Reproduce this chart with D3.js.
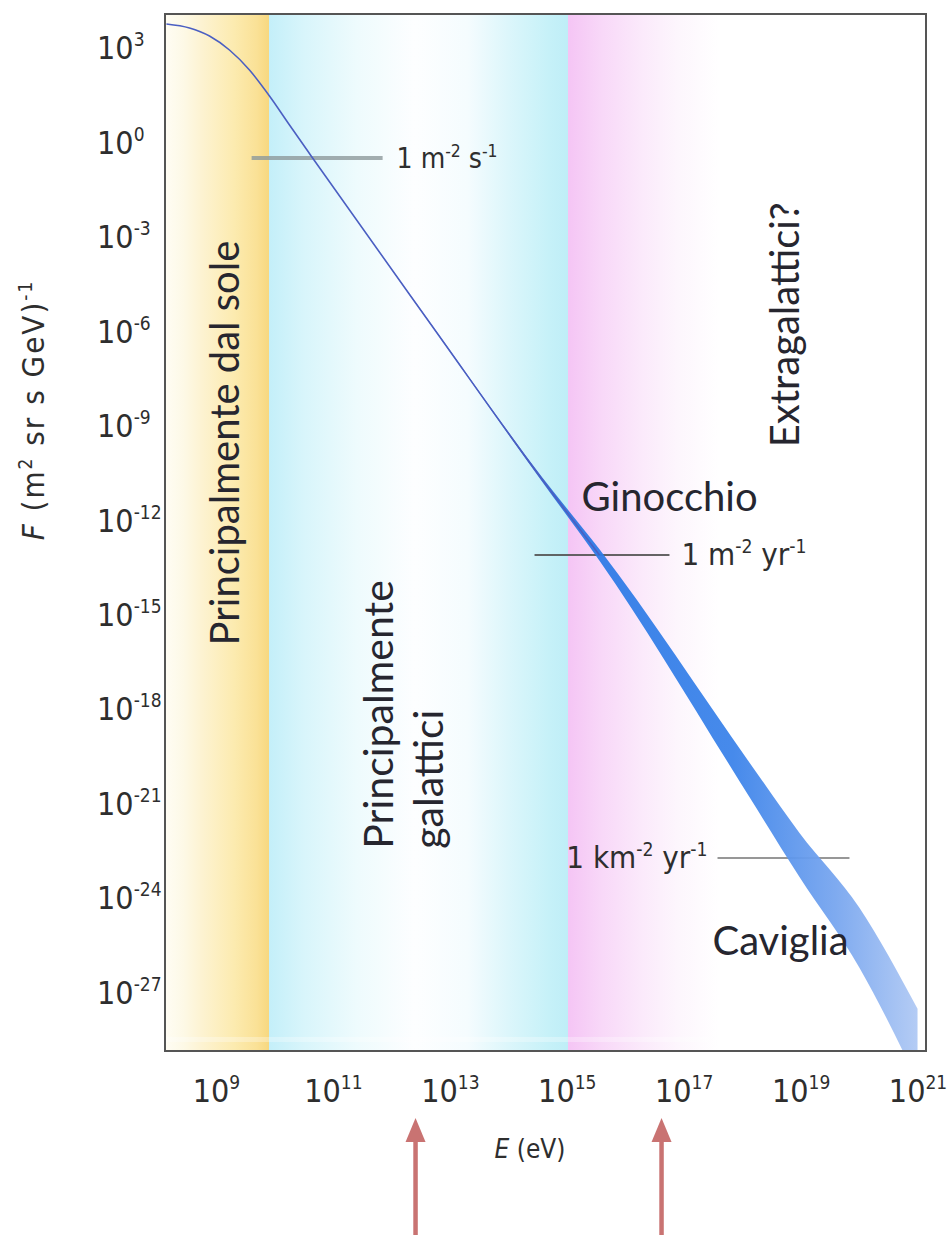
<!DOCTYPE html>
<html>
<head>
<meta charset="utf-8">
<script src="https://cdn.jsdelivr.net/npm/d3@7/dist/d3.min.js"></script>
<style>
  html, body { margin: 0; padding: 0; background: #fff; }
  svg { display: block; }
  .num { font-family: "Liberation Sans Narrow", "DejaVu Sans Condensed", "Arial Narrow", sans-serif; fill: #2e2e2e; }
  .region { font-family: Lato, "Open Sans", sans-serif; fill: #26262f; }
</style>
</head>
<body>
<div id="chart"></div>
<script>
// cosmic ray spectrum (E in eV, F in (m^2 sr s GeV)^-1)
const energies = [1.42e8, 3.52e8, 7.74e8, 1.70e9, 3.74e9, 8.22e9, 1.81e10, 4.13e10,
                  5.25e12, 3.85e14, 3.63e15, 1.34e18, 9.57e18, 1.02e20, 1.0e21];
const fluxes = [5.79e3, 4.33e3, 2.40e3, 863, 200, 29.9, 3.57, 0.398,
                1.27e-6, 1.87e-11, 7.76e-14, 5.5e-21, 2.27e-23, 5.24e-26, 2.08e-29];
// half width of the measured band, in decades of F
const spread = [0, 0, 0, 0, 0, 0, 0, 0, 0.02, 0.07, 0.18, 0.55, 0.7, 0.95, 1.15];

const xTicks = [1e9, 1e11, 1e13, 1e15, 1e17, 1e19, 1e21];
const yTicks = [1e3, 1e0, 1e-3, 1e-6, 1e-9, 1e-12, 1e-15, 1e-18, 1e-21, 1e-24, 1e-27];

// integral flux reference levels
const refLabels = [
    [["1 m", 0], ["-2", 1], [" s", 0], ["-1", 1]],
    [["1 m", 0], ["-2", 1], [" yr", 0], ["-1", 1]],
    [["1 km", 0], ["-2", 1], [" yr", 0], ["-1", 1]],
];
const refFlux = [0.32, 7.76e-14, 1.82e-23];
const refFrom = [4.07e9, 2.81e14, 3.79e17];
const refTo = [7.08e11, 5.71e16, 6.85e19];

// origin regions: background band edges
const sunBand = [1.34e8, 8.2e9];
const galacticBand = [8.2e9, 1.07e15];
const extraBand = [1.07e15, 4.1e17];

const regionNames = [["Principalmente dal sole"], ["Principalmente", "galattici"], ["Extragalattici?"]];
const regionAt = [[2.5e9, 2.8e-10], [1.05e12, 3.6e-23], [9.5e18, 1.6e-6]];
const featureNames = ["Ginocchio", "Caviglia"];
const featureAt = [[1.79e15, 1.95e-12], [3.1e17, 1.5e-26]];

const arrowEnergies = [2.59e12, 4.18e16];

const width = 949, height = 1235;
const plot = { left: 165, top: 14, width: 761, height: 1037 };

const svg = d3.select('#chart').append('svg')
    .attr('width', width)
    .attr('height', height);

const x = d3.scaleLog()
    .domain([1.342e8, 1.396e21])
    .range([plot.left, plot.left + plot.width]);

const y = d3.scaleLog()
    .domain([1.202e4, 1.343e-29])
    .range([plot.top, plot.top + plot.height]);

const defs = svg.append('defs');

defs.append('clipPath').attr('id', 'clip')
    .append('rect')
    .attr('x', plot.left).attr('y', plot.top)
    .attr('width', plot.width).attr('height', plot.height);

// background colour wash
const off = e => (x(e) - plot.left) / plot.width;
const bgStops = [
    [sunBand[0], '#fffdf4'],
    [Math.pow(10, 8.45), '#fdf9e6'],
    [Math.pow(10, 8.75), '#fdf3d2'],
    [Math.pow(10, 9.3), '#fcebb0'],
    [Math.pow(10, 9.7), '#fae196'],
    [sunBand[1] * 0.97, '#f7d880'],
    [galacticBand[0], '#c4eff9'],
    [Math.pow(10, 10.5), '#d8f5fb'],
    [Math.pow(10, 11.4), '#eefbfd'],
    [Math.pow(10, 12.4), '#fdfeff'],
    [Math.pow(10, 13.3), '#f5fcfe'],
    [Math.pow(10, 14.0), '#dcf6fb'],
    [Math.pow(10, 14.7), '#c6f1f8'],
    [galacticBand[1] * 0.97, '#bfeef7'],
    [extraBand[0], '#f5c5f5'],
    [Math.pow(10, 15.6), '#f8d8f8'],
    [Math.pow(10, 16.3), '#fbeafb'],
    [Math.pow(10, 16.9), '#fdf6fd'],
    [extraBand[1], '#ffffff'],
];
const bg = defs.append('linearGradient')
    .attr('id', 'bg')
    .attr('x1', 0).attr('x2', 1).attr('y1', 0).attr('y2', 0);
bg.selectAll('stop')
    .data(bgStops)
    .enter()
    .append('stop')
    .attr('offset', d => off(d[0]))
    .attr('stop-color', d => d[1]);

const bandFill = defs.append('linearGradient')
    .attr('id', 'bandfill')
    .attr('gradientUnits', 'userSpaceOnUse')
    .attr('x1', x(1e14)).attr('x2', x(1e21))
    .attr('y1', 0).attr('y2', 0);
[[0, '#3a62c8'], [0.2, '#2e7be6'], [0.55, '#3d84ea'], [0.8, '#78a6ef'], [1, '#b0c9f4']]
    .forEach(([o, c]) => bandFill.append('stop').attr('offset', o).attr('stop-color', c));

svg.append('rect')
    .attr('x', plot.left).attr('y', plot.top)
    .attr('width', plot.width).attr('height', plot.height)
    .attr('fill', 'url(#bg)');

const layer = svg.append('g').attr('clip-path', 'url(#clip)');

// faint light stripe near the bottom
layer.append('rect')
    .attr('x', plot.left).attr('y', plot.top + plot.height - 14)
    .attr('width', plot.width).attr('height', 5)
    .attr('fill', '#fff').attr('opacity', 0.3);

// reference lines
const refs = refFlux.map((f, i) => ({ f, from: refFrom[i], to: refTo[i], parts: refLabels[i] }));
const refStyle = [
    { stroke: '#8e9a9c', w: 4, op: 0.8 },
    { stroke: '#555', w: 2, op: 0.9 },
    { stroke: '#666', w: 1.5, op: 0.9 },
];
layer.selectAll('.ref')
    .data(refs)
    .enter()
    .append('line')
    .attr('class', 'ref')
    .attr('x1', d => x(d.from))
    .attr('x2', d => x(d.to))
    .attr('y1', d => y(d.f))
    .attr('y2', d => y(d.f))
    .attr('stroke', (d, i) => refStyle[i].stroke)
    .attr('stroke-width', (d, i) => refStyle[i].w)
    .attr('opacity', (d, i) => refStyle[i].op);

// spectrum
const pts = energies.map((e, i) => ({ e, f: fluxes[i], s: spread[i] }));

const area = d3.area()
    .x(d => x(d.e))
    .y0(d => y(d.f / Math.pow(10, d.s)))
    .y1(d => y(d.f * Math.pow(10, d.s)))
    .curve(d3.curveMonotoneX);

const line = d3.line()
    .x(d => x(d.e))
    .y(d => y(d.f))
    .curve(d3.curveMonotoneX);

layer.append('path')
    .datum(pts.slice(7))
    .attr('d', area)
    .attr('fill', 'url(#bandfill)')
    .attr('opacity', 0.95);

layer.append('path')
    .datum(pts.slice(0, 11))
    .attr('d', line)
    .attr('fill', 'none')
    .attr('stroke', '#4b5fc2')
    .attr('stroke-width', 1.6);

// frame
svg.append('rect')
    .attr('x', plot.left).attr('y', plot.top)
    .attr('width', plot.width).attr('height', plot.height)
    .attr('fill', 'none')
    .attr('stroke', '#555')
    .attr('stroke-width', 2);

function add_parts(text, parts, size, sup_size, shift) {
    let up = false;
    parts.forEach(([t, sup]) => {
        const span = text.append('tspan').text(t);
        if (sup && !up) { span.attr('dy', -shift); up = true; }
        else if (!sup && up) { span.attr('dy', shift); up = false; }
        span.attr('font-size', sup ? sup_size : size);
    });
}

const exponent = d => `${Math.round(Math.log10(d))}`;

// y axis
const y_axis = svg.append('g')
    .call(d3.axisLeft(y).tickValues(yTicks).tickSize(0).tickFormat(''));
y_axis.select('.domain').remove();
y_axis.selectAll('.tick').each(function (d) {
    const t = d3.select(this).append('text')
        .attr('class', 'num')
        .attr('x', 97)
        .attr('y', 11)
        .attr('text-anchor', 'start');
    add_parts(t, [['10', 0], [exponent(d), 1]], 32, 19, 13);
});

// x axis
const x_axis = svg.append('g')
    .attr('transform', `translate(0, ${plot.top + plot.height})`)
    .call(d3.axisBottom(x).tickValues(xTicks).tickSize(0).tickFormat(''));
x_axis.select('.domain').remove();
x_axis.selectAll('.tick').each(function (d) {
    const t = d3.select(this).append('text')
        .attr('class', 'num')
        .attr('x', 0)
        .attr('y', 51)
        .attr('text-anchor', 'middle');
    add_parts(t, [['10', 0], [exponent(d), 1]], 32, 19, 13);
});

// axis titles
const y_title = svg.append('text')
    .attr('class', 'num')
    .attr('transform', 'translate(44, 410) rotate(-90)')
    .attr('text-anchor', 'middle')
    .attr('letter-spacing', 2);
y_title.append('tspan').text('F').attr('font-style', 'italic').attr('font-size', 31);
add_parts(y_title, [[' (m', 0], ['2', 1], [' sr s GeV)', 0], ['-1', 1]], 31, 19, 12);

const x_title = svg.append('text')
    .attr('class', 'num')
    .attr('x', 530).attr('y', 1158)
    .attr('text-anchor', 'middle')
    .attr('font-size', 26);
x_title.append('tspan').text('E').attr('font-style', 'italic');
x_title.append('tspan').text(' (eV)');

// reference labels
const refLabelPos = [
    { e: refTo[0], dx: 14, anchor: 'start', size: 28 },
    { e: refTo[1], dx: 12, anchor: 'start', size: 31 },
    { e: refFrom[2], dx: -10, anchor: 'end', size: 31 },
];
refs.forEach((d, i) => {
    const p = refLabelPos[i];
    const t = svg.append('text')
        .attr('class', 'num')
        .attr('x', x(p.e) + p.dx)
        .attr('y', y(d.f) + 10)
        .attr('text-anchor', p.anchor);
    add_parts(t, d.parts, p.size, p.size * 0.62, p.size * 0.4);
});

// region labels (rotated)
regionNames.forEach((lines, i) => {
    const [e, f] = regionAt[i];
    lines.forEach((s, j) => {
        svg.append('text')
            .attr('class', 'region')
            .attr('transform', `translate(${x(e) + j * 50}, ${y(f)}) rotate(-90)`)
            .attr('text-anchor', lines.length > 1 ? 'start' : 'middle')
            .attr('font-size', lines.length > 1 ? 41 : 40)
            .text(s);
    });
});

featureNames.forEach((s, i) => {
    const [e, f] = featureAt[i];
    svg.append('text')
        .attr('class', 'region')
        .attr('x', x(e)).attr('y', y(f))
        .attr('font-size', 40)
        .text(s);
});

// arrows below the axis
const arrows = svg.selectAll('.arrow')
    .data(arrowEnergies)
    .enter()
    .append('g')
    .attr('class', 'arrow')
    .attr('transform', d => `translate(${x(d)}, 0)`);
arrows.append('line')
    .attr('x1', 0).attr('x2', 0)
    .attr('y1', height).attr('y2', 1136)
    .attr('stroke', '#c97372')
    .attr('stroke-width', 4.5);
arrows.append('path')
    .attr('d', 'M-10,1142 L0,1118 L10,1142 Z')
    .attr('fill', '#c97372');
</script>
</body>
</html>
